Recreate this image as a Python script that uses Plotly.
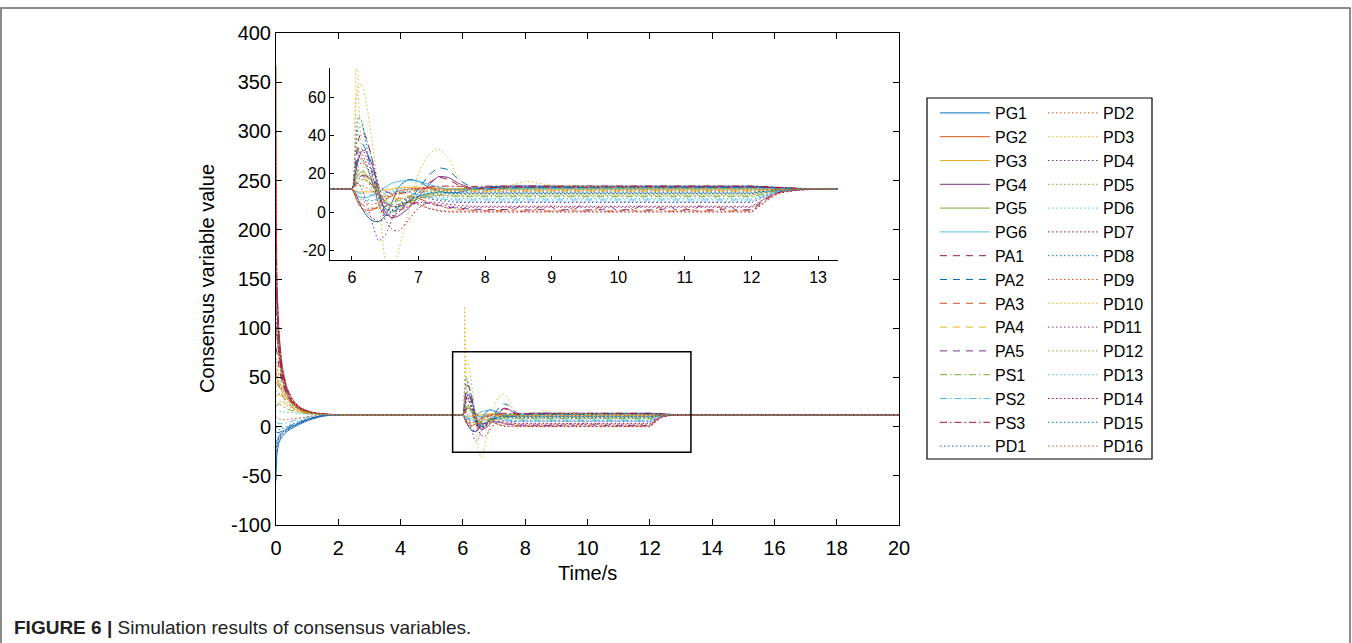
import plotly.graph_objects as go

# Time stamps (s): initial convergence, disturbance at 6 s, release at 12 s
T_START = [0, 0.03, 0.1, 0.2, 0.35, 0.55, 0.8, 1.1, 1.5, 2.0]
T_DIST = [5.9, 6.0, 6.05, 6.1, 6.15, 6.2, 6.3, 6.4, 6.5, 6.6, 6.7, 6.85, 7.0,
          7.15, 7.3, 7.45, 7.6, 7.8, 8.0, 8.3, 8.6, 9.0]
T_END = [11.9, 12.0, 12.2, 12.4, 12.7, 13.0, 13.3, 20.0]
TIME = T_START + T_DIST + T_END

# Consensus variable of each agent, sampled at TIME
PG1 = [-55, -28, -16, -10, -5, -1, 3, 7, 10.5, 12,
       12, 12, 10, 6, 2, -1, -4.5, -5, -2, 5, 13, 17, 16, 13, 11, 10, 10.2, 12, 13, 13.5, 13.6, 13.5,
       13.5, 13.5, 13.2, 12.8, 12.4, 12.1, 12, 12]
PG2 = [367, 150, 95, 62, 40, 27, 19, 15, 13, 12,
       12, 12, 8, 4, 2, 1, 1, 3, 6, 9, 11, 12, 12.5, 12.4, 12.2, 12, 12, 12.2, 12.4, 12.5, 12.5, 12.5,
       12.5, 12.5, 12.4, 12.3, 12.1, 12, 12, 12]
PG3 = [60, 50, 42, 35, 28, 22, 17, 14, 12.5, 12,
       12, 12, 11, 10.5, 10.5, 10.5, 10.5, 11, 11.5, 12, 12.5, 13, 13, 12.8, 12.5, 12.2, 12, 12, 12.1, 12.2, 12.2, 12.2,
       12.2, 12.2, 12.2, 12.1, 12, 12, 12, 12]
PG4 = [150, 120, 80, 55, 36, 24, 18, 14.5, 12.8, 12,
       12, 12, 20, 28, 32, 32, 25, 12, 0, -3, -2, 2, 8, 14, 18.5, 18, 15, 12.5, 12.5, 13, 13, 13,
       13, 13, 12.9, 12.6, 12.3, 12.1, 12, 12]
PG5 = [100, 90, 70, 48, 33, 23, 17.5, 14.5, 12.7, 12,
       12, 12, 16, 20, 21, 20, 16, 10, 5, 3, 3, 5, 7, 9, 10.5, 11.5, 12, 12, 12, 12, 12, 12,
       12, 12, 12, 12, 12, 12, 12, 12]
PG6 = [-20, -15, -9, -5, -2, 1, 5, 8, 11, 12,
       12, 12, 10, 8, 7.5, 7.5, 8.5, 10.5, 13, 15, 16, 16.5, 16, 14.5, 13, 12, 11.5, 12, 12.2, 12.5, 12.5, 12.5,
       12.5, 12.5, 12.4, 12.3, 12.1, 12, 12, 12]
PA1 = [80, 75, 60, 45, 32, 22, 17, 14, 12.6, 12,
       12, 12, 25, 38, 42, 40, 28, 10, -2, -3, 0, 5, 10, 15, 18, 17, 14, 12, 12.5, 13, 13, 13,
       13, 13, 12.9, 12.6, 12.3, 12.1, 12, 12]
PA2 = [-5, -6, -6, -4, -1, 2, 5, 8.5, 11, 12,
       12, 12, 22, 33, 36, 33, 22, 10, 2, 0, 2, 6, 12, 19, 23, 22, 17, 13, 12, 12.5, 12.8, 12.8,
       12.8, 12.8, 12.6, 12.4, 12.2, 12, 12, 12]
PA4 = [30, 32, 33, 28, 22, 18, 15, 13, 12.3, 12,
       12, 12, 14, 16, 17, 17, 15, 12, 9, 7, 7, 8.5, 10, 11, 11.5, 11.5, 11.2, 11, 11, 11, 11, 11,
       11, 11, 11.2, 11.5, 11.8, 12, 12, 12]
PS1 = [20, 22, 23, 21, 18, 16, 14, 12.8, 12.2, 12,
       12, 12, 18, 22, 22, 20, 15, 9, 6, 5, 6, 7.5, 8.5, 9, 9, 8.5, 8.2, 8, 8, 8, 8, 8,
       8, 8, 9.5, 11, 11.7, 12, 12, 12]
PS2 = [5, 4, 3, 3, 4, 6, 8, 10, 11.5, 12,
       12, 12, 11, 10, 9.5, 9, 9, 9.5, 10, 10.5, 10.5, 10, 9, 8, 7, 6.5, 6.3, 6.3, 6.3, 6.3, 6.3, 6.3,
       6.3, 6.3, 8.5, 10.5, 11.6, 12, 12, 12]
PS3 = [200, 140, 90, 58, 38, 25, 18.5, 14.8, 12.8, 12,
       12, 12, 14, 17, 19, 19, 17, 14, 11, 9.5, 9.5, 10.5, 12, 13, 13.5, 13.5, 13.3, 13.3, 13.5, 13.6, 13.6, 13.6,
       13.6, 13.6, 13.3, 12.9, 12.4, 12.1, 12, 12]
PD1 = [-40, -24, -14, -8, -4, 0, 4, 7.5, 10.8, 12,
       12, 12, 35, 50, 47, 38, 20, 5, -2, 0, 4, 8, 10, 11, 11, 10.8, 10.6, 10.5, 10.5, 10.5, 10.5, 10.5,
       10.5, 10.5, 11, 11.5, 11.8, 12, 12, 12]
PD2 = [10, 9, 8, 7, 7, 8, 9, 10.5, 11.7, 12,
       12, 12, 18, 24, 26, 25, 18, 10, 4, 1, 1, 3, 6, 8, 9, 9.5, 9.5, 9.5, 9.5, 9.5, 9.5, 9.5,
       9.5, 9.5, 10.3, 11, 11.6, 12, 12, 12]
PD3 = [40, 45, 45, 38, 30, 22, 17, 14, 12.5, 12,
       12, 12, 55, 66, 67, 60, 38, 10, -25, -32, -20, 0, 20, 30, 33, 28, 18, 11, 10, 13, 16, 14,
       12, 12, 12, 12, 12, 12, 12, 12]
PD4 = [-30, -20, -12, -7, -3, 0.5, 4, 8, 11, 12,
       12, 12, 14, 15, 12, 7, -5, -15, -12, -4, 3, 7, 8, 7, 6, 5.5, 5, 5, 5, 5, 5, 5,
       5, 5, 8, 10.5, 11.6, 12, 12, 12]
PD5 = [50, 48, 43, 36, 28, 21, 16.5, 13.8, 12.4, 12,
       12, 12, 16, 19, 20, 18, 12, 5, 1, 0, 2, 5, 8, 9.5, 10, 9.5, 9, 9, 9, 9, 9, 9,
       9, 9, 10.2, 11.2, 11.8, 12, 12, 12]
PD6 = [-10, -10, -8, -5, -2, 1.5, 5, 8.5, 11, 12,
       12, 12, 10, 8, 7, 6, 6, 7, 9, 11, 12, 12, 11, 9.5, 8, 7.5, 7, 7, 7, 7, 7, 7,
       7, 7, 9, 10.8, 11.7, 12, 12, 12]
PD7 = [110, 95, 72, 50, 34, 23.5, 17.5, 14.2, 12.6, 12,
       12, 12, 20, 28, 30, 27, 16, 4, -4, -9, -10, -4, 2, 5, 5, 4, 3.5, 3, 3, 3, 3, 3,
       3, 3, 7, 10, 11.5, 11.9, 12, 12]
PD8 = [0, -2, -3, -2, 0, 3, 6, 9, 11.2, 12,
       12, 12, 30, 44, 45, 40, 28, 14, 4, 0, 1, 5, 8, 10, 10.5, 10.3, 10, 10, 10, 10, 10, 10,
       10, 10, 10.8, 11.4, 11.8, 12, 12, 12]
PD9 = [70, 62, 52, 42, 31, 22.5, 17, 14, 12.5, 12,
       12, 12, 10, 8, 6, 5, 4, 5, 7, 8, 7.5, 6, 4, 2, 1, 0.5, 0.5, 0.5, 0.5, 0.5, 0.5, 0.5,
       0.5, 0.5, 5.5, 9.8, 11.5, 11.9, 12, 12]
PD10 = [25, 26, 26, 24, 21, 18, 15, 13.3, 12.3, 12,
        12, 12, 122, 60, 30, 20, 14, 10, 8, 8, 9, 10, 11, 11, 11, 11, 11, 11, 11, 11, 11, 11,
        11, 11, 11.3, 11.6, 11.9, 12, 12, 12]
PD11 = [-15, -13, -10, -6, -3, 0.5, 4.5, 8, 11, 12,
        12, 12, 22, 30, 33, 30, 20, 8, 0, -2, 0, 3, 5, 5, 4, 3, 2.5, 2.5, 2.5, 2.5, 2.5, 2.5,
        2.5, 2.5, 7, 10.3, 11.6, 11.9, 12, 12]
PD12 = [35, 36, 34, 30, 25, 20, 16, 13.5, 12.4, 12,
        12, 12, 14, 16, 17, 16.5, 14, 10, 6, 4, 4, 5.5, 7, 8, 8.5, 8.5, 8.5, 8.5, 8.5, 8.5, 8.5, 8.5,
        8.5, 8.5, 10, 11.2, 11.8, 12, 12, 12]
PD13 = [15, 16, 16, 15, 14.5, 14, 13.2, 12.6, 12.2, 12,
        12, 12, 11, 9.5, 8, 7, 6, 6.5, 8, 10, 11, 10.5, 9, 7.5, 6.5, 6, 5.5, 5.5, 5.5, 5.5, 5.5, 5.5,
        5.5, 5.5, 8.5, 10.7, 11.7, 12, 12, 12]
PD14 = [300, 145, 92, 60, 39, 26, 19, 15, 13, 12,
        12, 12, 9, 5, 2, 0, -3, -5, -3, 1, 4, 5, 4, 2, 0.5, 0, 0, 0, 0, 0, 0, 0,
        0, 0, 5, 9.5, 11.4, 11.9, 12, 12]
PD15 = [-25, -18, -11, -6, -2.5, 0.5, 4.5, 8, 11, 12,
        12, 12, 20, 27, 28, 25, 16, 7, 2, 1, 3, 6, 8.5, 9.8, 10, 10, 9.8, 9.8, 9.8, 9.8, 9.8, 9.8,
        9.8, 9.8, 10.7, 11.4, 11.8, 12, 12, 12]
PD16 = [55, 52, 46, 38, 30, 22, 17, 14, 12.5, 12,
        12, 12, 13, 14, 14, 13, 11, 9, 8, 8.5, 10, 11.5, 12, 12, 11.8, 11.6, 11.5, 11.5, 11.5, 11.5, 11.5, 11.5,
        11.5, 11.5, 11.6, 11.8, 11.9, 12, 12, 12]

# PA3 and PA5 chatter around their low set-points between 8 s and 12 s
PA3_TIME = (T_START + [5.9, 6.0, 6.05, 6.1, 6.15, 6.2, 6.3, 6.4, 6.5, 6.6, 6.7, 6.85,
                       7.0, 7.15, 7.3, 7.45, 7.6, 7.8]
            + [8.0, 8.28, 8.36, 8.45, 8.73, 8.81, 8.9, 9.18, 9.26, 9.35, 9.63, 9.71,
               9.8, 10.08, 10.16, 10.25, 10.53, 10.61, 10.7, 10.98, 11.06, 11.15,
               11.43, 11.51, 11.6, 11.88]
            + [12.0, 12.2, 12.4, 12.7, 13.0, 13.3, 20.0])
PA3 = ([45, 44, 40, 32, 25, 19, 15.5, 13.5, 12.4, 12]
       + [12, 12, 9, 6, 4, 3, 2, 2, 3, 5, 7, 8, 7, 5, 3, 2, 1.5, 1]
       + [0.6, 0.9, 2.4, 0.6, 0.9, 2.4, 0.6, 0.9, 2.4, 0.6, 0.9, 2.4, 0.6, 0.9, 2.4,
          0.6, 0.9, 2.4, 0.6, 0.9, 2.4, 0.6, 0.9, 2.4, 0.6, 0.9]
       + [1, 6, 10, 11.5, 11.9, 12, 12])
PA5_TIME = (T_START + [5.9, 6.0, 6.05, 6.1, 6.15, 6.2, 6.3, 6.4, 6.5, 6.6, 6.7, 6.85,
                       7.0, 7.15, 7.3, 7.45, 7.6, 7.8]
            + [8.1, 8.45, 8.53, 8.6, 8.9, 8.98, 9.05, 9.35, 9.43, 9.5, 9.8, 9.88,
               9.95, 10.25, 10.33, 10.4, 10.7, 10.78, 10.85, 11.15, 11.23, 11.3,
               11.6, 11.68, 11.75]
            + [12.0, 12.2, 12.4, 12.7, 13.0, 13.3, 20.0])
PA5 = ([120, 105, 75, 52, 35, 24, 18, 14.5, 12.7, 12]
       + [12, 12, 15, 18, 19, 18, 14, 9, 5, 3, 3, 4, 5, 4.5, 3.5, 2.5, 2, 1.5]
       + [1.3, 1.6, 3.2, 1.3, 1.6, 3.2, 1.3, 1.6, 3.2, 1.3, 1.6, 3.2, 1.3, 1.6, 3.2,
          1.3, 1.6, 3.2, 1.3, 1.6, 3.2, 1.3, 1.6, 3.2, 1.3]
       + [1.5, 6.5, 10.2, 11.6, 11.9, 12, 12])

NAMES = ["PG1", "PG2", "PG3", "PG4", "PG5", "PG6",
         "PA1", "PA2", "PA3", "PA4", "PA5",
         "PS1", "PS2", "PS3",
         "PD1", "PD2", "PD3", "PD4", "PD5", "PD6", "PD7", "PD8",
         "PD9", "PD10", "PD11", "PD12", "PD13", "PD14", "PD15", "PD16"]
SERIES = [PG1, PG2, PG3, PG4, PG5, PG6, PA1, PA2, PA3, PA4, PA5, PS1, PS2, PS3,
          PD1, PD2, PD3, PD4, PD5, PD6, PD7, PD8, PD9, PD10, PD11, PD12, PD13,
          PD14, PD15, PD16]
SERIES_TIME = {"PA3": PA3_TIME, "PA5": PA5_TIME}

# Axis ticks
X_TICKS = [0, 2, 4, 6, 8, 10, 12, 14, 16, 18, 20]
Y_TICKS = [-100, -50, 0, 50, 100, 150, 200, 250, 300, 350, 400]
Y_TICK_TEXT = ["-100", "-50", "0", "50", "100", "150", "200", "250", "300", "350", "400"]
INSET_X_TICKS = [6, 7, 8, 9, 10, 11, 12, 13]
INSET_Y_TICKS = [-20, 0, 20, 40, 60]
INSET_Y_TICK_TEXT = ["-20", "0", "20", "40", "60"]

# MATLAB default colour order, cycled through the agents
COLOR_ORDER = ["#0072BD", "#D95319", "#EDB120", "#7E2F8E", "#77AC30", "#4DBEEE", "#A2142F"]
DASH_BY_KIND = {"PG": "solid", "PA": "7px,6px", "PS": "7px,3px,1.5px,3px", "PD": "1.5px,2.5px"}

FONT = "Liberation Sans, Arial, Helvetica, sans-serif"

# Plot area in pixels
W, H = 1352, 643
L, R, TOP, BOT = 276, 899, 33, 525
PW, PH = R - L, BOT - TOP


def px_x(px):
    return (px - L) / PW


def px_y(py):
    return (BOT - py) / PH


fig = go.Figure()

for i, (name, vals) in enumerate(zip(NAMES, SERIES)):
    color = COLOR_ORDER[i % len(COLOR_ORDER)]
    dash = DASH_BY_KIND[name[:2]]
    t = SERIES_TIME.get(name, TIME)
    line = dict(color=color, width=1, dash=dash, shape="spline", smoothing=0.6)
    fig.add_trace(go.Scatter(
        x=t, y=vals, mode="lines", name=name, line=line,
        legend="legend" if i < 15 else "legend2", legendgroup=name,
        xaxis="x", yaxis="y"))
    fig.add_trace(go.Scatter(
        x=t, y=vals, mode="lines", name=name, line=line,
        showlegend=False, legendgroup=name, xaxis="x2", yaxis="y2"))

axis_common = dict(showgrid=False, zeroline=False, showline=True, linecolor="black",
                   linewidth=1, ticks="inside", tickcolor="black")
main_font = dict(family=FONT, size=20, color="black")
inset_font = dict(family=FONT, size=16, color="black")
legend_font = dict(family=FONT, size=16, color="black")

fig.update_layout(
    width=W, height=H,
    margin=dict(l=L, r=W - R, t=TOP, b=H - BOT, autoexpand=False),
    paper_bgcolor="white", plot_bgcolor="white",
    font=dict(family=FONT, color="black"),
    xaxis=dict(range=[0, 20], tickvals=X_TICKS, ticklen=6, mirror="ticks",
               ticklabelstandoff=5, tickfont=main_font, **axis_common),
    yaxis=dict(range=[-100, 400], tickvals=Y_TICKS, ticktext=Y_TICK_TEXT, ticklen=6,
               mirror="ticks", tickfont=main_font, **axis_common),
    xaxis2=dict(domain=[px_x(330), px_x(838)], range=[5.67, 13.3], anchor="y2",
                tickvals=INSET_X_TICKS, ticklen=4, ticklabelstandoff=3,
                tickfont=inset_font, **axis_common),
    yaxis2=dict(domain=[px_y(260), px_y(68)], range=[-25.1, 75.3], anchor="x2",
                tickvals=INSET_Y_TICKS, ticktext=INSET_Y_TICK_TEXT, ticklen=4,
                tickfont=inset_font, **axis_common),
    legend=dict(x=px_x(935), y=px_y(96), xanchor="left", yanchor="top",
                bgcolor="rgba(0,0,0,0)", borderwidth=0, itemwidth=50, tracegroupgap=0,
                font=legend_font),
    legend2=dict(x=px_x(1043), y=px_y(96), xanchor="left", yanchor="top",
                 bgcolor="rgba(0,0,0,0)", borderwidth=0, itemwidth=50, tracegroupgap=0,
                 font=legend_font),
    showlegend=True,
)

# Zoom window marker on the main axes
fig.add_shape(type="rect", xref="x", yref="y", x0=5.67, x1=13.32, y0=-26, y1=76,
              line=dict(color="black", width=1.5))
# Legend box
fig.add_shape(type="rect", xref="paper", yref="paper",
              x0=px_x(927), x1=px_x(1152), y0=px_y(459), y1=px_y(98),
              line=dict(color="black", width=1.2))
# Figure frame
fig.add_shape(type="rect", xref="paper", yref="paper",
              x0=px_x(1), x1=px_x(1350), y0=px_y(660), y1=px_y(8),
              line=dict(color="#666666", width=1.5))

fig.add_annotation(text="Time/s", xref="paper", yref="paper", x=0.5, y=px_y(573),
                   showarrow=False, font=dict(family=FONT, size=20, color="black"),
                   xanchor="center", yanchor="middle")
fig.add_annotation(text="Consensus variable value", xref="paper", yref="paper",
                   x=px_x(207), y=0.5, textangle=-90, showarrow=False,
                   font=dict(family=FONT, size=20, color="black"),
                   xanchor="center", yanchor="middle")
fig.add_annotation(text="<b>FIGURE 6 |</b> Simulation results of consensus variables.",
                   xref="paper", yref="paper", x=px_x(12), y=px_y(627),
                   showarrow=False, font=dict(family=FONT, size=19, color="#222222"),
                   xanchor="left", yanchor="middle")

fig.write_html("out.html")
